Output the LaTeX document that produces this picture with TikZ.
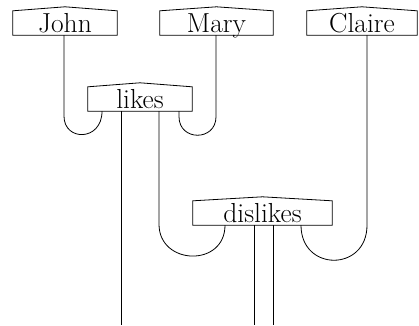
\documentclass[tikz,border=0pt]{standalone}
\tikzset{
  wbox/.style={draw=none, inner sep=0pt, text height=21pt, text depth=3pt, minimum height=24pt, font=\fontsize{27.5}{30}\selectfont},
  wire/.style={line width=0.8pt},
}
\newcommand{\housebox}[1]{%
  \draw[wire] (#1.south west) -- (#1.north west) -- ([yshift=4pt]#1.north) -- (#1.north east) -- (#1.south east) -- cycle;}
\begin{document}
\begin{tikzpicture}[x=1pt,y=-1pt]
\useasboundingbox (0,0) rectangle (419,325);
\node[wbox, minimum width=104pt] (John) at (65,23) {John};
\node[wbox, minimum width=113pt] (Mary) at (216.5,23) {Mary};
\node[wbox, minimum width=110pt] (Claire) at (362,23) {Claire};
\node[wbox, minimum width=104pt] (likes) at (140,99) {likes};
\node[wbox, minimum width=139pt] (dislikes) at (262.5,213) {dislikes};
\housebox{John}
\housebox{Mary}
\housebox{Claire}
\housebox{likes}
\housebox{dislikes}
% wire anchors
\coordinate (jw) at ([xshift=-1pt]John.south);
\coordinate (mw) at ([xshift=-0.5pt]Mary.south);
\coordinate (cw) at ([xshift=5pt]Claire.south);
\coordinate (lA) at ([xshift=-38pt]likes.south);
\coordinate (lB) at ([xshift=-19pt]likes.south);
\coordinate (lC) at ([xshift=19pt]likes.south);
\coordinate (lD) at ([xshift=39pt]likes.south);
\coordinate (dA) at ([xshift=-37.5pt]dislikes.south);
\coordinate (dB) at ([xshift=-8.5pt]dislikes.south);
\coordinate (dC) at ([xshift=10.5pt]dislikes.south);
\coordinate (dD) at ([xshift=38.5pt]dislikes.south);
% John - likes cup
\draw[wire] (jw) -- ++(0,81) .. controls +(0,25.3) and +(0,30.3) .. (lA);
% likes - Mary cup
\draw[wire] (lD) -- ++(0,5.5) .. controls +(0,24.7) and +(0,24.7) .. ([yshift=-81.5pt]mw) -- (mw);
% likes output to bottom
\draw[wire] (lB) -- ++(0,214);
% likes - dislikes cup
\draw[wire] (lC) -- ++(0,113) .. controls +(0,41.3) and +(0,42.3) .. (dA);
% dislikes - Claire cup
\draw[wire] (dD) .. controls +(0,46.7) and +(0,46.7) .. (cw |- dD) -- (cw);
% dislikes outputs
\draw[wire] (dB) -- ++(0,100);
\draw[wire] (dC) -- ++(0,100);
\end{tikzpicture}
\end{document}
